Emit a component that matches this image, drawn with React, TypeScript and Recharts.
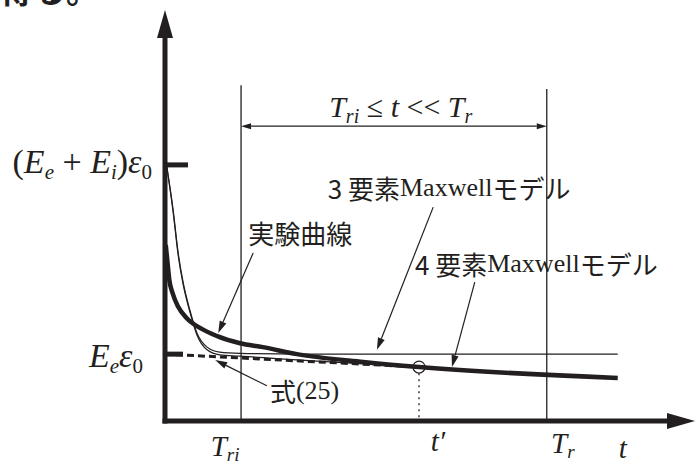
import React from 'react';
import { ComposedChart, Line, XAxis, YAxis, ReferenceLine, ReferenceDot } from 'recharts';

// time positions on the t axis (arbitrary units, axis runs 0..100)
const tRi = 15.0;
const tPrime = 50.1;
const tR = 75.3;
const tAxisName = 90.3;

// stress levels on the vertical axis (arbitrary units, 0..100)
const levelInitial = 65.5; // (Ee + Ei) ε0
const levelEq = 17.1; // Ee ε0

// experimental curve (thick)
const expT = [0.15, 0.45, 0.85, 1.5, 2.6, 4.3, 6.9, 10.3, 14.8, 19.3, 26.0, 39.1, 50.1, 89.3];
const expY = [45.0, 41.2, 36.1, 32.7, 29.2, 26.3, 23.8, 21.7, 19.9, 18.9, 17.1, 15.1, 13.8, 11.0];

// 3-element Maxwell model (thin, levels off at Ee ε0)
const m3T = [0.3, 1.6, 2.6, 3.6, 4.9, 6.3, 8.3, 10.8, 14.8, 26.6, 89.3];
const m3Y = [65.5, 54.0, 43.0, 35.3, 28.4, 22.5, 18.9, 17.6, 17.3, 17.1, 17.1];

// 4-element Maxwell model (thin, runs into the slow tail)
const m4T = [0.3, 1.6, 2.6, 3.6, 4.9, 6.3, 8.3, 10.8, 14.8, 22.7, 32.5, 50.1];
const m4Y = [65.5, 53.5, 42.4, 34.8, 27.9, 22.0, 18.2, 16.9, 16.6, 15.9, 15.1, 13.8];

// eq. (25) tangent line (dashed)
const eqT = [0, tPrime];
const eqY = [levelEq, 13.8];

const xTicks = [tRi, tPrime, tR, tAxisName];
const xTickMain = ['T', 't′', 'T', 't'];
const xTickSub = ['ri', '', 'r', ''];
const yTicks = [levelEq, levelInitial];

const zip = (ts: number[], ys: number[]) => ts.map((t, i) => ({ t, y: ys[i] }));
const expData = zip(expT, expY);
const m3Data = zip(m3T, m3Y);
const m4Data = zip(m4T, m4Y);
const eqData = zip(eqT, eqY);

const INK = '#231f20';
const SERIF = '"Liberation Serif", "Times New Roman", serif';
const SANS = '"Noto Sans CJK JP", "Noto Sans", sans-serif';
const AXIS_X = 165;

function head(x1: number, y1: number, x2: number, y2: number, len: number, half: number) {
  const a = Math.atan2(y2 - y1, x2 - x1);
  const c = Math.cos(a), s = Math.sin(a);
  const bx = x2 - len * c, by = y2 - len * s;
  const pts = `${x2},${y2} ${bx - half * s},${by + half * c} ${bx + half * s},${by - half * c}`;
  return { bx, by, pts };
}

const Arrow = (p: any) => {
  const h = head(p.x1, p.y1, p.x2, p.y2, 12, 3.6);
  return (
    <g>
      <line x1={p.x1} y1={p.y1} x2={h.bx} y2={h.by} stroke={INK} strokeWidth={1.2} />
      <polygon points={h.pts} fill={INK} />
    </g>
  );
};

const DoubleArrow = (p: any) => {
  const a = head(p.x1, p.y1, p.x2, p.y2, 10, 3);
  const b = head(p.x2, p.y2, p.x1, p.y1, 10, 3);
  return (
    <g>
      <line x1={b.bx} y1={b.by} x2={a.bx} y2={a.by} stroke={INK} strokeWidth={1.2} />
      <polygon points={a.pts} fill={INK} />
      <polygon points={b.pts} fill={INK} />
    </g>
  );
};

const YTick = (p: any) => {
  const y = p.y;
  if (p.index === 1) {
    return (
      <g>
        <line x1={AXIS_X} y1={y} x2={AXIS_X + 23} y2={y} stroke={INK} strokeWidth={5} />
        <text x={152} y={y + 8} textAnchor="end" fontFamily={SERIF} fontSize={34} fill={INK}>
          <tspan>(</tspan>
          <tspan fontStyle="italic">E</tspan>
          <tspan fontStyle="italic" fontSize={21} dy={6}>e</tspan>
          <tspan dy={-6}> + </tspan>
          <tspan fontStyle="italic">E</tspan>
          <tspan fontStyle="italic" fontSize={21} dy={6}>i</tspan>
          <tspan dy={-6}>)</tspan>
          <tspan fontStyle="italic">ε</tspan>
          <tspan fontSize={21} dy={6}>0</tspan>
        </text>
      </g>
    );
  }
  return (
    <g>
      <line x1={AXIS_X} y1={y} x2={AXIS_X + 18} y2={y} stroke={INK} strokeWidth={5} />
      <text x={143} y={y + 13} textAnchor="end" fontFamily={SERIF} fontSize={34} fill={INK}>
        <tspan fontStyle="italic">E</tspan>
        <tspan fontStyle="italic" fontSize={21} dy={6}>e</tspan>
        <tspan fontStyle="italic" dy={-6}>ε</tspan>
        <tspan fontSize={21} dy={6}>0</tspan>
      </text>
    </g>
  );
};

const xTickDx = [-16, 19, 16, 0];
const xTickBase = [456, 451, 453, 458];

const XTick = (p: any) => {
  const i = p.index;
  return (
    <text x={p.x + xTickDx[i]} y={xTickBase[i]} textAnchor="middle" fontFamily={SERIF}
      fontStyle="italic" fontSize={29} fill={INK}>
      <tspan>{xTickMain[i]}</tspan>
      {xTickSub[i] && <tspan fontSize={19} dy={5}>{xTickSub[i]}</tspan>}
    </text>
  );
};

const ModelLabel = ({ cx, cy, n }: any) => (
  <text x={cx} y={cy} dominantBaseline="central" fontFamily={SANS} fontSize={26} fill={INK}>
    <tspan>{n} 要素</tspan>
    <tspan fontFamily={SERIF}>Maxwell</tspan>
    <tspan>モデル</tspan>
  </text>
);

export default function App() {
  return (
    <div style={{ position: 'absolute', left: 0, top: 0, width: 695, height: 464, background: '#fff', overflow: 'hidden' }}>
      <div style={{ position: 'absolute', left: 0, top: -27, fontFamily: SANS, fontSize: 33, fontWeight: 700, lineHeight: '33px', color: INK, whiteSpace: 'nowrap' }}>
        得る。
      </div>
      <ComposedChart width={695} height={464} margin={{ top: 30, right: 23, left: 0, bottom: 0 }}>
        <XAxis type="number" dataKey="t" domain={[0, 100]} ticks={xTicks} interval={0} height={43}
          axisLine={{ stroke: INK, strokeWidth: 5, strokeLinecap: 'square' }} tickLine={false}
          tick={(p: any) => <XTick {...p} />} />
        <YAxis type="number" domain={[0, 100]} ticks={yTicks} interval={0} width={165}
          axisLine={{ stroke: INK, strokeWidth: 5, strokeLinecap: 'square' }} tickLine={false}
          tick={(p: any) => <YTick {...p} />} />

        <ReferenceLine segment={[{ x: tRi, y: 0 }, { x: tRi, y: 85.9 }]} stroke={INK} strokeWidth={1.3} />
        <ReferenceLine segment={[{ x: tR, y: 0 }, { x: tR, y: 84.9 }]} stroke={INK} strokeWidth={1.3} />
        <ReferenceLine segment={[{ x: tRi, y: 75.4 }, { x: tR, y: 75.4 }]} shape={(p: any) => <DoubleArrow {...p} />} />
        <ReferenceLine segment={[{ x: tPrime, y: 12.2 }, { x: tPrime, y: 0 }]} stroke={INK} strokeWidth={1.3} strokeDasharray="2 4" />

        <Line data={m3Data} dataKey="y" type="monotone" stroke={INK} strokeWidth={1.2} dot={false} activeDot={false} isAnimationActive={false} />
        <Line data={m4Data} dataKey="y" type="monotone" stroke={INK} strokeWidth={1.2} dot={false} activeDot={false} isAnimationActive={false} />
        <Line data={eqData} dataKey="y" type="linear" stroke={INK} strokeWidth={3} strokeDasharray="7 4" dot={false} activeDot={false} isAnimationActive={false} />
        <Line data={expData} dataKey="y" type="monotone" stroke={INK} strokeWidth={4.5} dot={false} activeDot={false} isAnimationActive={false} />

        <ReferenceDot x={tPrime} y={13.8} r={6} fill="none" stroke={INK} strokeWidth={1.2} />

        {/* annotation arrows */}
        <ReferenceLine segment={[{ x: 17.4, y: 43.0 }, { x: 10.5, y: 22.5 }]} shape={(p: any) => <Arrow {...p} />} />
        <ReferenceLine segment={[{ x: 52.9, y: 54.7 }, { x: 41.8, y: 18.2 }]} shape={(p: any) => <Arrow {...p} />} />
        <ReferenceLine segment={[{ x: 61.1, y: 35.5 }, { x: 56.6, y: 13.8 }]} shape={(p: any) => <Arrow {...p} />} />
        <ReferenceLine segment={[{ x: 20.1, y: 9.0 }, { x: 9.9, y: 15.6 }]} shape={(p: any) => <Arrow {...p} />} />

        {/* labels */}
        <ReferenceDot x={16.4} y={48.3} r={0} ifOverflow="visible" shape={(p: any) => (
          <text x={p.cx} y={p.cy} dominantBaseline="central" fontFamily={SANS} fontSize={26} fill={INK}>実験曲線</text>
        )} />
        <ReferenceDot x={32.1} y={59.8} r={0} ifOverflow="visible" shape={(p: any) => <ModelLabel cx={p.cx} cy={p.cy} n="3" />} />
        <ReferenceDot x={49.3} y={40.4} r={0} ifOverflow="visible" shape={(p: any) => <ModelLabel cx={p.cx} cy={p.cy} n="4" />} />
        <ReferenceDot x={20.7} y={7.9} r={0} ifOverflow="visible" shape={(p: any) => (
          <text x={p.cx} y={p.cy} dominantBaseline="central" fontFamily={SANS} fontSize={26} fill={INK}>
            <tspan>式</tspan><tspan fontFamily={SERIF}>(25)</tspan>
          </text>
        )} />
        <ReferenceDot x={46.5} y={77.7} r={0} ifOverflow="visible" shape={(p: any) => (
          <text x={p.cx} y={p.cy} textAnchor="middle" fontFamily={SERIF} fontSize={30} fill={INK}>
            <tspan fontStyle="italic">T</tspan>
            <tspan fontStyle="italic" fontSize={20} dy={6}>ri</tspan>
            <tspan dy={-6}> ≤ </tspan>
            <tspan fontStyle="italic">t</tspan>
            <tspan> &lt;&lt; </tspan>
            <tspan fontStyle="italic">T</tspan>
            <tspan fontStyle="italic" fontSize={20} dy={6}>r</tspan>
          </text>
        )} />

        {/* axis arrowheads */}
        <ReferenceDot x={0} y={100} r={0} ifOverflow="visible" shape={(p: any) => (
          <polygon points={`${p.cx},${p.cy - 20} ${p.cx - 8},${p.cy + 8} ${p.cx + 8},${p.cy + 8}`} fill={INK} />
        )} />
        <ReferenceDot x={100} y={0} r={0} ifOverflow="visible" shape={(p: any) => (
          <polygon points={`${p.cx + 23},${p.cy} ${p.cx - 5},${p.cy - 8} ${p.cx - 5},${p.cy + 8}`} fill={INK} />
        )} />
      </ComposedChart>
    </div>
  );
}
